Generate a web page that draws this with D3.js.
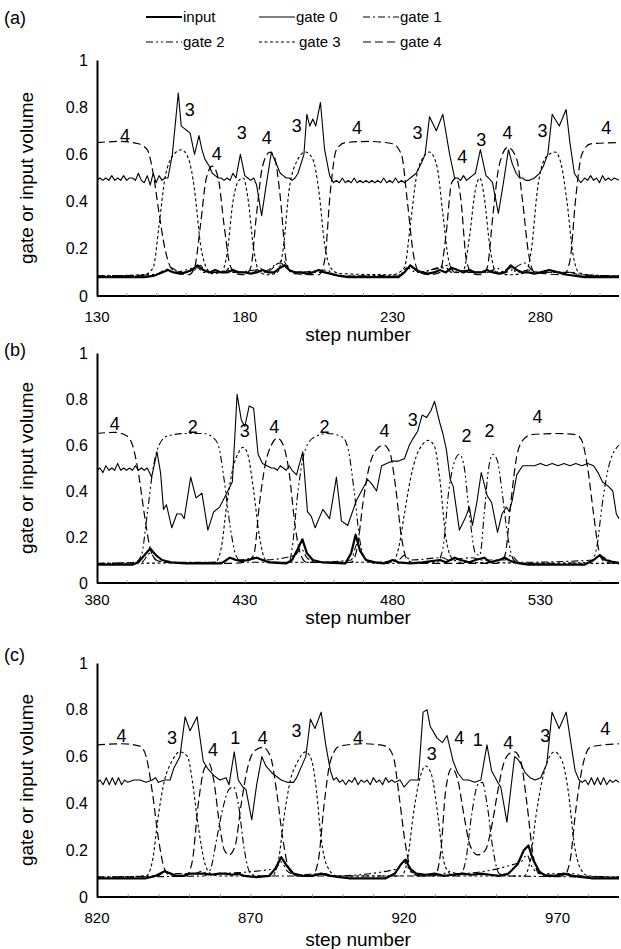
<!DOCTYPE html>
<html>
<head>
<meta charset="utf-8">
<script src="https://cdn.jsdelivr.net/npm/d3@7"></script>
<style>
  body { margin: 0; background: #fff; }
  text { font-family: "Liberation Sans", Arial, sans-serif; fill: #000; }
</style>
</head>
<body>
<div id="chart"></div>
<script>
// ---- panel (a) : steps 130-306 ----
const inputA = [[130,0.08],[146,0.08],[149,0.085],[152,0.1],[154,0.11],[156,0.1],[158,0.095],[160,0.1],[162,0.11],[164,0.13],[166,0.11],[168,0.1],[170,0.11],[172,0.1],[174,0.1],[176,0.11],[178,0.1],[180,0.1],[182,0.095],[184,0.1],[186,0.11],[188,0.1],[190,0.1],[192,0.12],[193.5,0.13],[195,0.11],[197,0.1],[199,0.1],[201,0.095],[203,0.1],[205,0.11],[207,0.1],[209,0.095],[212,0.085],[215,0.08],[232,0.08],[234,0.1],[236,0.13],[238,0.11],[240,0.1],[242,0.095],[244,0.1],[246,0.11],[248,0.1],[250,0.12],[252,0.11],[254,0.1],[256,0.11],[258,0.1],[260,0.1],[262,0.11],[264,0.1],[266,0.095],[268,0.1],[270,0.13],[272,0.11],[274,0.1],[276,0.1],[278,0.095],[280,0.1],[283,0.11],[286,0.1],[289,0.09],[292,0.085],[295,0.08],[306.6,0.08]];
const gate0A = [[130,0.49],[131,0.5],[132,0.49],[133,0.5],[134,0.49],[135,0.51],[136,0.49],[137,0.5],[138,0.49],[139,0.51],[140,0.49],[141,0.5],[142,0.5],[143,0.49],[144,0.52],[145,0.49],[146,0.48],[147,0.51],[148,0.47],[149,0.52],[150,0.48],[151,0.51],[152,0.49],[153,0.5],[154,0.5],[155.5,0.6],[157.5,0.86],[158.5,0.72],[159.5,0.71],[160.5,0.7],[161.5,0.69],[163,0.6],[164.5,0.68],[165.5,0.62],[166.5,0.58],[168,0.55],[169,0.52],[170,0.51],[171,0.5],[172,0.5],[173,0.49],[174,0.5],[175,0.49],[176,0.52],[177,0.5],[178.5,0.6],[180,0.51],[181,0.5],[182,0.49],[183,0.5],[184,0.47],[185.7,0.34],[187,0.45],[189,0.61],[190,0.58],[191,0.55],[192,0.52],[193,0.51],[194,0.5],[195,0.5],[196,0.49],[197,0.5],[198,0.52],[199,0.56],[200,0.6],[201,0.77],[202,0.72],[203,0.75],[204,0.72],[205.6,0.82],[207,0.62],[208.7,0.51],[210,0.48],[211,0.49],[212,0.48],[213,0.5],[214,0.48],[215,0.49],[216,0.48],[217,0.5],[218,0.48],[219,0.49],[220,0.48],[221,0.49],[222,0.48],[223,0.49],[224,0.48],[225,0.49],[226,0.48],[227,0.5],[228,0.48],[229,0.49],[230,0.48],[231,0.5],[232,0.48],[233,0.49],[234,0.48],[235,0.49],[236,0.5],[238,0.52],[240,0.57],[241,0.6],[242.5,0.76],[244.8,0.7],[247,0.77],[249.3,0.6],[251,0.5],[252,0.5],[253,0.49],[254,0.51],[255,0.49],[256,0.5],[257,0.51],[258,0.52],[259.7,0.62],[261.6,0.51],[262.5,0.5],[263.8,0.48],[265.8,0.35],[267.5,0.48],[269.2,0.62],[270.5,0.56],[271.8,0.52],[273,0.5],[274,0.5],[275,0.49],[276.3,0.49],[278,0.5],[279.7,0.52],[281,0.55],[282.5,0.6],[284,0.77],[286.4,0.72],[288.7,0.79],[290,0.65],[291.5,0.52],[292.5,0.5],[293.7,0.48],[295,0.5],[296,0.49],[297,0.51],[298,0.49],[299,0.5],[300,0.48],[301,0.51],[302,0.49],[303,0.5],[304,0.49],[305,0.5],[306.6,0.49]];
const gate1A = [[130,0.085],[148,0.09],[152,0.1],[155,0.12],[158,0.1],[163,0.11],[165,0.13],[167,0.1],[173,0.1],[175,0.12],[177,0.1],[184,0.11],[186,0.1],[192,0.14],[194,0.12],[197,0.1],[208,0.11],[210,0.09],[214,0.085],[232,0.085],[235,0.12],[238,0.1],[248,0.12],[250,0.1],[256,0.11],[258,0.1],[263,0.1],[265,0.12],[268,0.1],[275,0.14],[277,0.11],[280,0.1],[290,0.1],[293,0.09],[306.6,0.085]];
const gate2A = [[130,0.085],[150,0.09],[153,0.11],[156,0.1],[164,0.12],[166,0.1],[172,0.1],[174,0.11],[176,0.1],[183,0.1],[185,0.12],[187,0.1],[193,0.15],[195,0.11],[198,0.1],[207,0.1],[210,0.09],[214,0.085],[233,0.09],[236,0.13],[239,0.1],[249,0.13],[251,0.1],[262,0.1],[264,0.11],[266,0.1],[270,0.12],[272,0.1],[276,0.11],[279,0.1],[291,0.1],[294,0.09],[306.6,0.085]];
const gate3A = [[130,0.085],[146,0.09],[149,0.12],[151,0.3],[153,0.5],[156,0.6],[158.5,0.62],[161,0.58],[163,0.45],[165,0.22],[167,0.12],[169,0.095],[172,0.1],[174,0.18],[176,0.4],[178,0.49],[179.5,0.5],[181,0.42],[183,0.2],[185,0.1],[188,0.09],[191,0.1],[193,0.2],[195,0.45],[198,0.58],[200.5,0.61],[203,0.58],[205,0.45],[207,0.22],[209,0.12],[212,0.095],[230,0.09],[234,0.12],[236,0.3],[238,0.5],[240,0.58],[242.5,0.61],[245,0.55],[247,0.35],[249,0.15],[251,0.1],[254,0.11],[256,0.25],[258,0.45],[259.5,0.5],[261,0.42],[263,0.2],[265,0.1],[270,0.09],[275,0.1],[277,0.2],[279,0.45],[282,0.59],[285,0.61],[287,0.56],[289,0.4],[291,0.18],[293,0.1],[296,0.09],[306.6,0.085]];
const gate4A = [[130,0.65],[138,0.655],[144,0.645],[147,0.62],[149,0.52],[151,0.35],[153,0.2],[155,0.12],[158,0.095],[161,0.09],[163,0.12],[165,0.3],[167,0.5],[169,0.55],[171,0.5],[173,0.3],[175,0.13],[177,0.095],[180,0.09],[182,0.12],[184,0.35],[186,0.55],[188.5,0.61],[190,0.59],[192,0.42],[194,0.15],[196,0.095],[205,0.09],[207,0.15],[209,0.45],[211,0.62],[214,0.65],[222,0.655],[230,0.645],[233,0.6],[235,0.4],[237,0.18],[239,0.1],[242,0.09],[246,0.1],[248,0.25],[250,0.48],[251.5,0.5],[253,0.42],[255,0.15],[257,0.095],[260,0.09],[262,0.12],[264,0.35],[266,0.55],[269,0.63],[272,0.58],[274,0.4],[276,0.18],[278,0.1],[288,0.09],[290,0.15],[292,0.42],[294,0.6],[297,0.645],[306.6,0.65]];
const labelsA = [[139.5,0.68,'4'],[161.4,0.79,'3'],[170.5,0.6,'4'],[179,0.69,'3'],[187.4,0.67,'4'],[197.6,0.72,'3'],[218,0.71,'4'],[238.4,0.69,'3'],[253.6,0.59,'4'],[260,0.66,'3'],[268.9,0.69,'4'],[280.7,0.7,'3'],[302.3,0.71,'4']];

// ---- panel (b) : steps 380-556 ----
const inputB = [[380,0.08],[392,0.08],[394,0.09],[396,0.12],[398,0.15],[400,0.12],[402,0.1],[405,0.09],[410,0.085],[422,0.085],[425,0.11],[427,0.1],[429,0.095],[431,0.1],[434,0.11],[436,0.1],[438,0.09],[444,0.085],[446,0.1],[448,0.15],[449.5,0.19],[451,0.13],[453,0.1],[456,0.09],[464,0.085],[466,0.13],[467.5,0.21],[469,0.14],[471,0.1],[474,0.09],[477,0.085],[480,0.1],[482,0.09],[486,0.085],[490,0.09],[496,0.1],[498,0.09],[501,0.11],[503,0.1],[506,0.09],[508,0.1],[511,0.11],[513,0.09],[516,0.1],[518,0.11],[520,0.095],[523,0.085],[526,0.08],[545,0.08],[548,0.1],[550,0.12],[552,0.1],[555,0.09],[556.6,0.085]];
const gate0B = [[380,0.49],[381,0.5],[382,0.48],[383,0.51],[384,0.49],[385,0.5],[386,0.49],[387,0.52],[388,0.49],[389,0.5],[390,0.49],[391,0.5],[392,0.49],[393,0.51],[394,0.49],[395,0.5],[396,0.49],[397,0.5],[398.5,0.46],[400.3,0.57],[401.5,0.48],[402.5,0.32],[403.5,0.34],[405.3,0.24],[407,0.3],[408.5,0.3],[409.5,0.28],[411.7,0.46],[413.5,0.37],[415.5,0.39],[417.5,0.23],[419.5,0.31],[421.5,0.33],[423.5,0.38],[425.8,0.44],[427.4,0.82],[428.8,0.71],[430,0.68],[431.5,0.77],[433,0.76],[434.5,0.56],[436,0.52],[437.5,0.51],[439,0.5],[440,0.5],[441,0.49],[442,0.51],[443,0.5],[444,0.49],[445,0.51],[446,0.49],[447.5,0.47],[449.6,0.57],[451.2,0.31],[452.5,0.29],[453.8,0.24],[456.4,0.32],[458.7,0.28],[461,0.46],[462.7,0.27],[464.8,0.25],[467.8,0.36],[471.6,0.45],[473,0.43],[474.6,0.4],[476.3,0.51],[478,0.52],[480,0.53],[482,0.53],[484,0.54],[485.7,0.6],[487,0.63],[488.5,0.66],[490,0.73],[491.5,0.72],[493,0.75],[494.2,0.79],[495.9,0.7],[497,0.65],[498.2,0.58],[499.5,0.45],[500.5,0.42],[502.6,0.23],[504.5,0.28],[506,0.33],[507,0.25],[508.5,0.35],[510,0.48],[512,0.38],[513.5,0.35],[515.5,0.22],[517,0.3],[518.5,0.33],[519.5,0.31],[520.5,0.36],[522,0.47],[524,0.51],[526,0.51],[528,0.51],[530,0.52],[532,0.51],[534,0.52],[536,0.51],[538,0.52],[540,0.51],[542,0.52],[544,0.51],[546,0.52],[548,0.51],[549.5,0.48],[551,0.44],[553,0.42],[554.5,0.4],[555.7,0.3],[556.6,0.28]];
const gate1B = [[380,0.085],[395,0.09],[398,0.13],[400,0.1],[404,0.09],[423,0.09],[425,0.11],[428,0.1],[434,0.11],[436,0.1],[447,0.12],[449,0.15],[451,0.11],[454,0.09],[466,0.1],[468,0.17],[470,0.12],[473,0.09],[482,0.1],[484,0.12],[486,0.1],[497,0.11],[499,0.1],[507,0.11],[510,0.1],[518,0.1],[520,0.12],[523,0.09],[548,0.1],[550,0.12],[553,0.1],[556.6,0.09]];
const gate2B = [[380,0.085],[393,0.09],[395,0.12],[397,0.3],[399,0.5],[401,0.6],[404,0.64],[410,0.65],[416,0.65],[419,0.635],[421,0.6],[423,0.45],[425,0.25],[427,0.12],[429,0.09],[445,0.09],[446,0.15],[448,0.4],[450,0.56],[453,0.63],[458,0.65],[463,0.635],[465,0.58],[467,0.4],[469,0.18],[471,0.1],[474,0.085],[495,0.09],[497,0.15],[499,0.4],[501,0.53],[502.6,0.56],[504,0.52],[506,0.3],[508,0.13],[509.5,0.12],[511,0.3],[512.5,0.5],[514,0.56],[515.5,0.53],[517,0.4],[519,0.2],[521,0.1],[524,0.085],[547,0.09],[549,0.15],[551,0.35],[553,0.5],[556.6,0.6]];
const gate3B = [[380,0.085],[420,0.09],[422,0.15],[424,0.35],[426,0.5],[428,0.57],[429.5,0.59],[431,0.56],[433,0.4],[435,0.2],[437,0.1],[440,0.09],[480,0.09],[482,0.15],[484,0.3],[486,0.45],[488,0.55],[490,0.6],[492,0.62],[494,0.6],[496,0.45],[498,0.2],[500,0.11],[503,0.09],[556.6,0.085]];
const gate4B = [[380,0.65],[386,0.655],[390,0.64],[392,0.6],[394,0.48],[396,0.3],[398,0.15],[400,0.1],[403,0.09],[425,0.085],[430,0.09],[433,0.12],[435,0.35],[437,0.52],[439,0.6],[441,0.63],[443,0.6],[445,0.48],[447,0.25],[449,0.12],[451,0.09],[466,0.09],[468,0.15],[470,0.35],[472,0.5],[474.5,0.58],[477,0.6],[479,0.57],[481,0.42],[483,0.2],[485,0.1],[488,0.085],[515,0.085],[518,0.12],[520,0.35],[522,0.55],[524,0.62],[527,0.645],[535,0.65],[542,0.645],[544,0.62],[546,0.5],[548,0.3],[550,0.13],[552,0.09],[556.6,0.085]];
const labelsB = [[386,0.69,'4'],[412.4,0.68,'2'],[430,0.66,'3'],[440,0.68,'4'],[457,0.68,'2'],[477.3,0.66,'4'],[486.8,0.71,'3'],[505,0.64,'2'],[512.8,0.66,'2'],[529,0.72,'4']];

// ---- panel (c) : steps 820-990 ----
const inputC = [[820,0.08],[836,0.08],[839,0.09],[842,0.11],[844,0.1],[846,0.09],[848,0.09],[850,0.1],[852,0.1],[855,0.1],[857,0.095],[860,0.1],[862,0.1],[864,0.095],[866,0.1],[868,0.09],[872,0.085],[876,0.09],[878,0.12],[880,0.17],[882,0.13],[884,0.1],[887,0.09],[890,0.09],[893,0.1],[896,0.09],[899,0.085],[902,0.08],[914,0.08],[917,0.1],[919,0.14],[920.5,0.16],[922,0.12],[924,0.1],[927,0.095],[930,0.1],[933,0.09],[936,0.095],[939,0.1],[942,0.095],[945,0.1],[948,0.095],[951,0.09],[954,0.1],[957,0.14],[959,0.2],[960.5,0.22],[962,0.16],[964,0.11],[966,0.09],[969,0.09],[972,0.1],[975,0.09],[978,0.085],[981,0.08],[990,0.08]];
const gate0C = [[820,0.49],[821,0.5],[822,0.48],[823,0.51],[824,0.48],[825,0.51],[826,0.48],[827,0.51],[828,0.48],[829,0.5],[830,0.49],[832,0.5],[834,0.5],[836,0.49],[838,0.5],[839,0.51],[840,0.49],[842,0.5],[843.8,0.5],[845,0.55],[847,0.6],[848.7,0.77],[850.3,0.71],[852.6,0.77],[854.6,0.58],[856,0.55],[858,0.52],[860,0.5],[862,0.51],[863,0.48],[864.7,0.62],[866,0.5],[867.5,0.47],[868.5,0.46],[870.4,0.33],[872,0.48],[873.7,0.6],[875,0.56],[877,0.53],[880,0.5],[882,0.49],[884,0.49],[885,0.51],[887,0.57],[888,0.6],[889.5,0.76],[891,0.72],[893,0.79],[894.5,0.65],[896,0.54],[897,0.5],[898,0.51],[899,0.49],[900,0.5],[901,0.48],[902,0.5],[903,0.49],[904,0.51],[905,0.48],[906,0.5],[907,0.49],[908,0.5],[909,0.48],[910,0.51],[911,0.49],[912,0.5],[913,0.48],[914,0.51],[915,0.49],[916,0.5],[917,0.49],[918.7,0.5],[920,0.47],[922,0.5],[924.6,0.5],[926.2,0.79],[927.5,0.8],[928.5,0.73],[930.7,0.68],[932.5,0.66],[934,0.69],[936,0.58],[937.5,0.53],[939.3,0.5],[941,0.5],[943,0.49],[945,0.5],[947,0.65],[948.5,0.54],[950.5,0.49],[951.5,0.47],[953.5,0.32],[956,0.6],[957,0.59],[958,0.57],[959.5,0.53],[961,0.51],[962.7,0.5],[964.5,0.51],[966.5,0.57],[968.2,0.79],[970.5,0.72],[972.8,0.79],[975.7,0.54],[977,0.5],[978,0.49],[979,0.5],[980,0.48],[981,0.51],[982,0.48],[983,0.51],[984,0.48],[985,0.51],[986,0.48],[987,0.5],[988,0.49],[989,0.5],[990,0.49]];
const gate1C = [[820,0.085],[855,0.09],[857,0.12],[859,0.25],[861,0.38],[863,0.46],[864.5,0.47],[866,0.4],[868,0.2],[870,0.1],[873,0.09],[938,0.09],[940,0.15],[942,0.35],[944,0.48],[945.5,0.49],[947,0.4],[949,0.2],[951,0.1],[954,0.09],[990,0.085]];
const gate2C = [[820,0.085],[840,0.09],[842,0.11],[844,0.1],[852,0.1],[854,0.11],[856,0.1],[878,0.12],[880,0.15],[882,0.11],[885,0.095],[894,0.1],[897,0.09],[918,0.12],[920,0.15],[922,0.11],[925,0.09],[933,0.1],[935,0.11],[937,0.1],[958,0.15],[960,0.18],[962,0.12],[965,0.1],[975,0.1],[978,0.09],[990,0.085]];
const gate3C = [[820,0.085],[836,0.09],[838,0.15],[840,0.35],[842,0.5],[844,0.57],[847,0.62],[849.5,0.6],[851,0.5],[853,0.3],[855,0.15],[857,0.1],[860,0.09],[877,0.09],[879,0.15],[881,0.35],[883,0.5],[885,0.57],[888,0.62],[890,0.58],[891.5,0.45],[893,0.25],[895,0.13],[898,0.09],[919,0.09],[921,0.15],[923,0.35],[925,0.5],[927,0.56],[929,0.52],[931,0.35],[933,0.15],[935,0.1],[938,0.09],[959,0.09],[961,0.15],[963,0.35],[965,0.5],[967,0.59],[969,0.62],[971.5,0.58],[973.5,0.45],[975.5,0.22],[977.5,0.12],[980,0.09],[990,0.085]];
const gate4C = [[820,0.65],[828,0.655],[834,0.645],[836,0.6],[838,0.45],[840,0.25],[842,0.12],[844,0.09],[849,0.09],[851,0.15],[853,0.4],[855,0.55],[856.5,0.57],[858,0.5],[860,0.3],[861.5,0.2],[863,0.18],[865,0.22],[867,0.4],[869,0.55],[871,0.62],[874,0.64],[876.5,0.6],[878.5,0.45],[880.5,0.25],[882.5,0.12],[885,0.09],[890,0.09],[892,0.15],[894,0.4],[896,0.58],[899,0.645],[907,0.655],[914,0.645],[916.5,0.6],[918.5,0.42],[920.5,0.22],[922.5,0.11],[925,0.09],[930,0.09],[932,0.2],[933.5,0.45],[935.5,0.55],[937.5,0.5],[939.5,0.35],[941.5,0.22],[944,0.18],[946.5,0.2],[948.5,0.3],[950.5,0.45],[952,0.55],[954,0.61],[956,0.62],[958,0.58],[960,0.4],[962,0.18],[964,0.1],[972,0.09],[974,0.15],[976,0.38],[978,0.55],[980.6,0.64],[985,0.65],[990,0.655]];
const labelsC = [[828,0.69,'4'],[844.4,0.68,'3'],[857.8,0.63,'4'],[865,0.68,'1'],[874,0.68,'4'],[885,0.71,'3'],[905,0.68,'4'],[929,0.61,'3'],[938,0.68,'4'],[944,0.67,'1'],[953.9,0.66,'4'],[966,0.69,'3'],[985.5,0.72,'4']];

const seriesNames = ['input', 'gate 0', 'gate 1', 'gate 2', 'gate 3', 'gate 4'];
const yTicks = [0, 0.2, 0.4, 0.6, 0.8, 1];

const W = 621, H = 949;
const svg = d3.select('#chart').append('svg').attr('width', W).attr('height', H);

// line look for each series
const styles = {
    'input':  { w: 2.2, dash: null },
    'gate 0': { w: 1.1, dash: null },
    'gate 1': { w: 1.1, dash: '7,3,2,3' },
    'gate 2': { w: 1.1, dash: '7,3,2,3,2,3' },
    'gate 3': { w: 1.1, dash: '3,2.5' },
    'gate 4': { w: 1.2, dash: '8,4' }
};

const panels = [
    { tag: '(a)', x0: 130, x1: 306.6, top: 60, bottom: 296, tagY: 24, tickY: 322, titleY: 341,
      series: [inputA, gate0A, gate1A, gate2A, gate3A, gate4A], labels: labelsA },
    { tag: '(b)', x0: 380, x1: 556.6, top: 353, bottom: 583, tagY: 356, tickY: 605, titleY: 624,
      series: [inputB, gate0B, gate1B, gate2B, gate3B, gate4B], labels: labelsB },
    { tag: '(c)', x0: 820, x1: 990, top: 663, bottom: 897, tagY: 661, tickY: 923, titleY: 946,
      series: [inputC, gate0C, gate1C, gate2C, gate3C, gate4C], labels: labelsC }
];

const left = 97, right = 619;

panels.forEach(p => {
    const x = d3.scaleLinear().domain([p.x0, p.x1]).range([left, right]);
    const y = d3.scaleLinear().domain([0, 1]).range([p.bottom, p.top]);
    const g = svg.append('g');

    // curves
    p.series.forEach((data, i) => {
        const name = seriesNames[i];
        const line = d3.line()
            .x(d => x(d[0]))
            .y(d => y(d[1]))
            .curve(i >= 2 ? d3.curveMonotoneX : d3.curveLinear);
        g.append('path')
            .datum(data)
            .attr('d', line)
            .attr('fill', 'none')
            .attr('stroke', '#000')
            .attr('stroke-width', styles[name].w)
            .attr('stroke-dasharray', styles[name].dash)
            .attr('stroke-linejoin', 'round');
    });

    // x axis with minor ticks every 10 steps, labels every 50
    const xAxis = d3.axisBottom(x)
        .tickValues(d3.range(p.x0 + 10, p.x1, 10))
        .tickSize(-3)
        .tickFormat(() => '');
    const xg = g.append('g').attr('transform', `translate(0,${p.bottom})`).call(xAxis);
    xg.select('.domain').attr('stroke-width', 2).attr('d', `M${left},0H${right}`);
    xg.selectAll('.tick line').attr('stroke', '#888').attr('stroke-width', 0.8);

    g.selectAll('.xlab')
        .data(d3.range(p.x0, p.x1, 50))
        .enter().append('text')
        .attr('x', d => x(d))
        .attr('y', p.tickY)
        .attr('text-anchor', 'middle')
        .style('font-size', '15px')
        .text(d => d);

    // y axis
    const yAxis = d3.axisLeft(y).tickValues(yTicks).tickSize(0).tickPadding(9)
        .tickFormat(d => d === 0 ? '0' : d === 1 ? '1' : d3.format('.1f')(d));
    const yg = g.append('g').attr('transform', `translate(${left},0)`).call(yAxis);
    yg.select('.domain').attr('stroke-width', 2);
    yg.selectAll('text').style('font-size', '16px').attr('font-family', '"Liberation Sans", Arial, sans-serif');

    g.append('text')
        .attr('transform', `translate(33,${(p.top + p.bottom) / 2}) rotate(-90)`)
        .attr('text-anchor', 'middle')
        .style('font-size', '19px')
        .text('gate or input volume');

    g.append('text')
        .attr('x', 358).attr('y', p.titleY)
        .attr('text-anchor', 'middle')
        .style('font-size', '19px')
        .text('step number');

    g.append('text')
        .attr('x', 4).attr('y', p.tagY)
        .style('font-size', '18px')
        .text(p.tag);

    // gate number labels
    g.selectAll('.glab')
        .data(p.labels)
        .enter().append('text')
        .attr('x', d => x(d[0]))
        .attr('y', d => y(d[1]) + 6)
        .attr('text-anchor', 'middle')
        .style('font-size', '18px')
        .text(d => d[2]);
});

// legend
const legendPos = [[146, 17], [259, 17], [363, 17], [146, 42], [259, 42], [363, 42]];
seriesNames.forEach((name, i) => {
    const [lx, ly] = legendPos[i];
    const len = 36;
    svg.append('line')
        .attr('x1', lx).attr('x2', lx + len)
        .attr('y1', ly).attr('y2', ly)
        .attr('stroke', '#000')
        .attr('stroke-width', styles[name].w)
        .attr('stroke-dasharray', styles[name].dash);
    svg.append('text')
        .attr('x', lx + len + (i === 4 ? 4 : 1)).attr('y', ly + 5)
        .style('font-size', '15px')
        .text(name);
});
</script>
</body>
</html>
